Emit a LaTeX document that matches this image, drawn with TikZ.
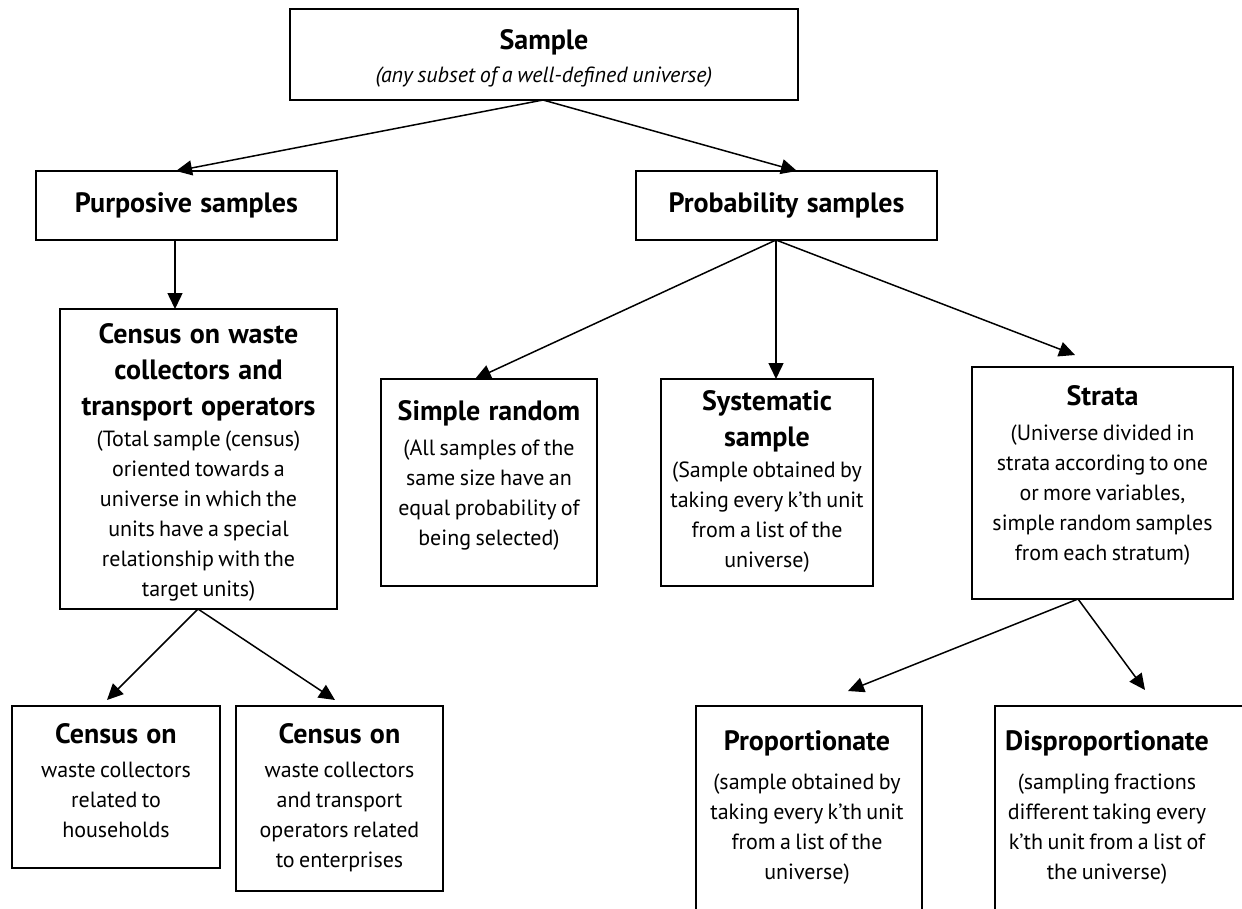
\documentclass[tikz,border=0pt]{standalone}
\usepackage{fontspec}
\setmainfont{PT Sans}
\usetikzlibrary{arrows.meta,calc}
\newcommand{\ttlf}{\fontsize{28}{36}\selectfont\bfseries\spaceskip=0.3em\relax}
\newcommand{\bdyf}{\fontsize{22}{30}\selectfont\spaceskip=0.2em\relax}
\tikzset{
  cell/.style 2 args={draw, line width=1.3pt, minimum width=#1, minimum height=#2, inner sep=0pt, outer sep=0pt},
  lbl/.style={inner sep=0pt, align=center, text width=#1},
  arr/.style={line width=1.5pt, -{Triangle[length=16pt,width=15pt]}},
}
\begin{document}
\begin{tikzpicture}[x=1pt,y=-1pt]
\useasboundingbox (0,0) rectangle (1242,908);
\fill[white] (0,0) rectangle (1242,908);
\clip (0,0) rectangle (1242,908);
% boxes
\node[cell={508pt}{91pt}] (sample) at (544,54.5) {};
\node[cell={301pt}{69pt}] (purp) at (186.5,205.5) {};
\node[cell={301pt}{69pt}] (prob) at (786.5,205.5) {};
\node[cell={277pt}{300pt}] (census) at (198.5,459) {};
\node[cell={208pt}{162pt}] (hh) at (116,787) {};
\node[cell={207pt}{185pt}] (ent) at (339.5,798.5) {};
\node[cell={216pt}{207pt}] (simple) at (489,482.5) {};
\node[cell={212pt}{207pt}] (syst) at (767,482.5) {};
\node[cell={261pt}{232pt}] (strata) at (1102.5,483) {};
\node[cell={226pt}{224pt}] (prop) at (809,818) {};
\node[cell={265pt}{224pt}] (disp) at (1127.5,818) {};
% texts
\node[lbl=480pt, anchor=north] (sample-t) at ($(sample.north)+(0,20)$)
  {{\ttlf Sample\par}{\itshape\fontsize{22}{33}\selectfont\spaceskip=0.22em\relax (any subset of a well-defined universe)\par}};
\node[lbl=290pt] (purp-t) at (purp) {\ttlf Purposive samples};
\node[lbl=290pt] (prob-t) at (prob) {\ttlf Probability samples};
\node[lbl=270pt, anchor=north] (census-t) at ($(census.north)+(0,14)$)
  {{\ttlf Census on waste\\collectors and\\transport operators\par}\vspace{1pt}
   {\bdyf (Total sample (census)\\oriented towards a\\universe in which the\\units have a special\\relationship with the\\target units)\par}};
\node[lbl=200pt, anchor=north] (hh-t) at ($(hh.north)+(0,17)$)
  {{\ttlf Census on\par}\vspace{4pt}{\bdyf waste collectors\\related to\\households\par}};
\node[lbl=200pt, anchor=north] (ent-t) at ($(ent.north)+(0,17)$)
  {{\ttlf Census on\par}\vspace{4pt}{\bdyf waste collectors\\and transport\\operators related\\to enterprises\par}};
\node[lbl=210pt, anchor=north] (simple-t) at ($(simple.north)+(0,21)$)
  {{\ttlf Simple random\par}\vspace{5pt}{\bdyf (All samples of the\\same size have an\\equal probability of\\being selected)\par}};
\node[lbl=205pt, anchor=north] (syst-t) at ($(syst.north)+(0,11)$)
  {{\ttlf Systematic\\sample\par}\vspace{1pt}{\bdyf (Sample obtained by\\taking every k’th unit\\from a list of the\\universe)\par}};
\node[lbl=255pt, anchor=north] (strata-t) at ($(strata.north)+(0,18)$)
  {{\ttlf Strata\par}\vspace{5pt}{\bdyf (Universe divided in\\strata according to one\\or more variables,\\simple random samples\\from each stratum)\par}};
\node[lbl=220pt, anchor=north] (prop-t) at ($(prop.north)+(-2,24)$)
  {{\ttlf Proportionate\par}\vspace{9pt}{\bdyf (sample obtained by\\taking every k’th unit\\from a list of the\\universe)\par}};
\node[lbl=240pt, anchor=north] (disp-t) at ($(disp.north)+(-20.5,24)$)
  {{\ttlf Disproportionate\par}\vspace{9pt}{\bdyf (sampling fractions\\different taking every\\k’th unit from a list of\\the universe)\par}};
% arrows
\draw[arr] ($(sample.south)+(-1,0)$) -- ($(purp.north)+(-10.5,0)$);
\draw[arr] ($(sample.south)+(-1,0)$) -- ($(prob.north)+(10.5,0)$);
\draw[arr] ($(purp.south)+(-11.5,0)$) -- ($(census.north)+(-23.5,0)$);
\draw[arr] ($(census.south)+(-0.5,0)$) -- ($(hh.north)+(-9,-6)$);
\draw[arr] ($(census.south)+(-0.5,0)$) -- ($(ent.north)+(-4.5,-6)$);
\draw[arr] ($(prob.south)+(-10.5,0)$) -- ($(simple.north)+(-14,0)$);
\draw[arr] ($(prob.south)+(-10.5,0)$) -- ($(syst.north)+(9,0)$);
\draw[arr] ($(prob.south)+(-10.5,0)$) -- ($(strata.north)+(-27.5,-12)$);
\draw[arr] ($(strata.south)+(-24.5,0)$) -- ($(prop.north)+(39,-15)$);
\draw[arr] ($(strata.south)+(-24.5,0)$) -- ($(disp.north)+(17.5,-16)$);
\end{tikzpicture}
\end{document}
